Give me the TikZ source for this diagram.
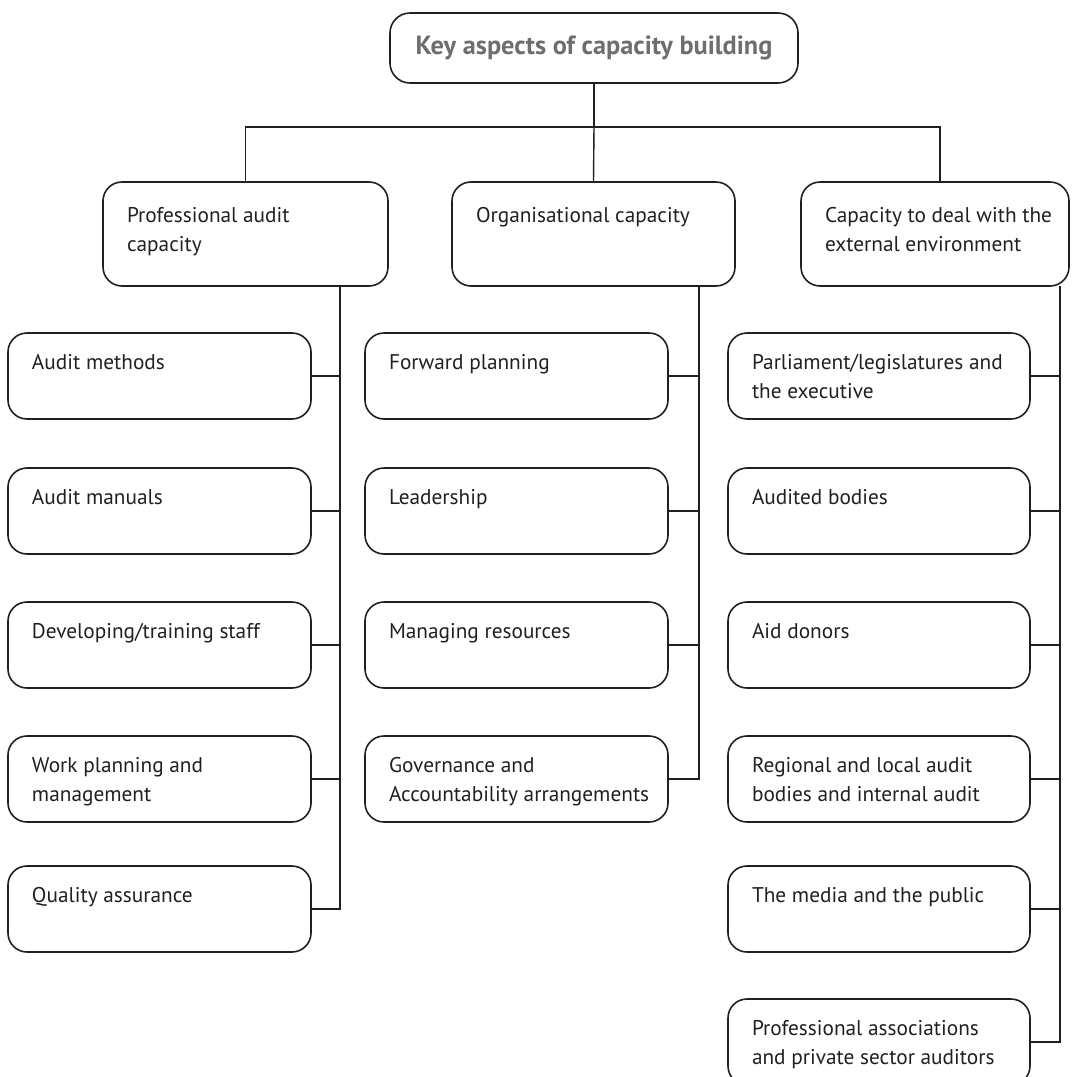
\documentclass[tikz,border=0pt]{standalone}
\usepackage{fontspec}
\setmainfont{PT Sans}
\usetikzlibrary{calc}
\definecolor{ink}{HTML}{231F20}
\definecolor{titlegray}{HTML}{6D6E71}
\newcommand{\leaftext}[2]{\hspace*{24pt}\parbox[c][86pt][t]{\dimexpr#1pt-24pt\relax}{\fontsize{21.3}{29}\selectfont\color{ink}\rule{0pt}{36pt}#2}}
\newcommand{\cattext}[2]{\hspace*{24pt}\parbox[c][104pt][t]{\dimexpr#1pt-24pt\relax}{\fontsize{21.3}{29}\selectfont\color{ink}\rule{0pt}{40pt}#2}}
\tikzset{
  box/.style={draw=ink, line width=1.6pt, rounded corners=19pt, inner sep=0pt, outer sep=0pt, anchor=north west, align=left},
  link/.style={draw=ink, line width=1.4pt},
}
\begin{document}
\begin{tikzpicture}[x=1pt,y=-1pt]
\useasboundingbox (0,0) rectangle (1072,1077);
% title
\node[draw=ink, line width=1.6pt, rounded corners=20pt, minimum width=408pt, minimum height=70pt, inner sep=0pt, outer sep=0pt, font=\fontsize{26.3}{30}\selectfont\bfseries, text=titlegray] (title) at (594,48) {Key aspects of capacity building};
% categories
\node[box] (prof) at (103,182) {\cattext{285}{Professional audit\\capacity}};
\node[box] (org) at (452,182) {\cattext{283}{Organisational capacity}};
\node[box] (cap) at (801,182) {\cattext{268}{Capacity to deal with the\\external environment}};
% left leaves
\node[box] (a1) at (8,333) {\leaftext{303}{Audit methods}};
\node[box] (a2) at (8,468) {\leaftext{303}{Audit manuals}};
\node[box] (a3) at (8,602) {\leaftext{303}{Developing/training staff}};
\node[box] (a4) at (8,736) {\leaftext{303}{Work planning and\\management}};
\node[box] (a5) at (8,866) {\leaftext{303}{Quality assurance}};
% middle leaves
\node[box] (b1) at (365,333) {\leaftext{303}{Forward planning}};
\node[box] (b2) at (365,468) {\leaftext{303}{Leadership}};
\node[box] (b3) at (365,602) {\leaftext{303}{Managing resources}};
\node[box] (b4) at (365,736) {\leaftext{303}{Governance and\\Accountability arrangements}};
% right leaves
\node[box] (c1) at (728,333) {\leaftext{302}{Parliament/legislatures and\\the executive}};
\node[box] (c2) at (728,468) {\leaftext{302}{Audited bodies}};
\node[box] (c3) at (728,602) {\leaftext{302}{Aid donors}};
\node[box] (c4) at (728,736) {\leaftext{302}{Regional and local audit\\bodies and internal audit}};
\node[box] (c5) at (728,866) {\leaftext{302}{The media and the public}};
\node[box] (c6) at (728,999) {\leaftext{302}{Professional associations\\and private sector auditors}};
% top connectors
\coordinate (j) at (594,127);
\coordinate (captop) at ($(cap.north west)+(139,0)$);
\draw[link] (title.south) -- (j);
\draw[link] (prof.north) |- (j);
\draw[link] (org.north) -- (j);
\draw[link] (captop) |- (j);
% spines
\coordinate (ps) at ($(prof.south east)+(-48,0)$);
\coordinate (os) at ($(org.south east)+(-36,0)$);
\coordinate (cs) at ($(cap.south east)+(-9,0)$);
\draw[link] (ps) |- (a5.east);
\foreach \n in {a1,a2,a3,a4} \draw[link] (\n.east) -- (\n.east -| ps);
\draw[link] (os) |- (b4.east);
\foreach \n in {b1,b2,b3} \draw[link] (\n.east) -- (\n.east -| os);
\draw[link] (cs) |- (c6.east);
\foreach \n in {c1,c2,c3,c4,c5} \draw[link] (\n.east) -- (\n.east -| cs);
\end{tikzpicture}
\end{document}
